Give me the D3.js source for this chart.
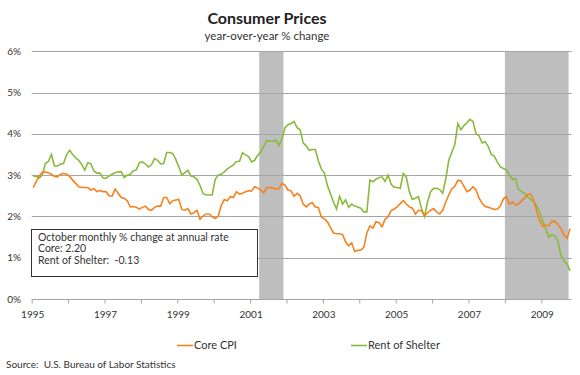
<!DOCTYPE html>
<html>
<head>
<meta charset="utf-8">
<script src="https://cdn.jsdelivr.net/npm/d3@7"></script>
<style>
body { margin: 0; background: #fff; }
text { font-family: Lato, "Open Sans", sans-serif; fill: #333; white-space: pre; }
</style>
</head>
<body>
<div id="chart"></div>
<script>
// monthly year-over-year % change, Jan 1995 - Oct 2009
var startYear = 1995;
var coreCPI = [
	2.70, 2.85, 2.98, 3.07, 3.08, 3.05, 3.02, 2.97, 2.96, 3.02, 3.04, 3.03,
	2.97, 2.88, 2.80, 2.72, 2.70, 2.70, 2.70, 2.64, 2.67, 2.60, 2.63, 2.60,
	2.60, 2.50, 2.49, 2.66, 2.56, 2.46, 2.44, 2.38, 2.23, 2.24, 2.22, 2.18,
	2.22, 2.25, 2.17, 2.15, 2.22, 2.25, 2.25, 2.46, 2.46, 2.31, 2.38, 2.40,
	2.41, 2.17, 2.15, 2.19, 2.06, 2.09, 2.15, 1.93, 2.01, 2.06, 2.06, 1.99,
	1.95, 2.01, 2.27, 2.41, 2.38, 2.48, 2.46, 2.60, 2.54, 2.56, 2.60, 2.62,
	2.62, 2.72, 2.69, 2.64, 2.57, 2.70, 2.70, 2.69, 2.66, 2.67, 2.80, 2.76,
	2.64, 2.62, 2.49, 2.56, 2.50, 2.30, 2.23, 2.30, 2.33, 2.23, 2.22, 1.98,
	1.94, 1.87, 1.73, 1.60, 1.58, 1.58, 1.56, 1.38, 1.29, 1.36, 1.15, 1.18,
	1.18, 1.25, 1.60, 1.77, 1.72, 1.87, 1.85, 1.75, 1.93, 1.99, 2.14, 2.18,
	2.23, 2.31, 2.38, 2.30, 2.23, 2.20, 2.06, 2.15, 2.14, 2.01, 2.09, 2.15,
	2.19, 2.11, 2.06, 2.15, 2.35, 2.52, 2.67, 2.73, 2.88, 2.86, 2.73, 2.60,
	2.64, 2.72, 2.64, 2.44, 2.32, 2.24, 2.22, 2.20, 2.17, 2.18, 2.25, 2.42,
	2.48, 2.30, 2.35, 2.28, 2.30, 2.37, 2.45, 2.53, 2.54, 2.40, 2.12, 1.90,
	1.75, 1.79, 1.77, 1.88, 1.88, 1.80, 1.70, 1.55, 1.47, 1.70
];
var rentShelter = [
	2.98, 2.97, 2.93, 3.00, 3.28, 3.33, 3.50, 3.22, 3.22, 3.27, 3.28, 3.50,
	3.60, 3.50, 3.42, 3.36, 3.26, 3.12, 3.30, 3.28, 3.10, 3.05, 3.05, 2.93,
	2.92, 2.98, 3.02, 3.06, 3.08, 3.08, 2.94, 3.00, 3.02, 3.10, 3.13, 3.30,
	3.32, 3.27, 3.20, 3.25, 3.40, 3.36, 3.27, 3.28, 3.55, 3.55, 3.52, 3.38,
	3.20, 3.00, 3.06, 3.12, 2.98, 2.96, 2.90, 2.75, 2.55, 2.52, 2.52, 2.52,
	2.90, 3.00, 3.02, 3.08, 3.15, 3.20, 3.25, 3.33, 3.33, 3.54, 3.49, 3.45,
	3.32, 3.36, 3.48, 3.56, 3.70, 3.84, 3.82, 3.82, 3.85, 3.72, 3.88, 4.15,
	4.22, 4.25, 4.30, 4.15, 4.10, 3.78, 3.71, 3.60, 3.62, 3.62, 3.35, 3.15,
	3.05, 2.75, 2.55, 2.35, 2.18, 2.49, 2.30, 2.40, 2.22, 2.30, 2.25, 2.23,
	2.20, 2.11, 2.11, 2.88, 2.84, 2.90, 2.94, 2.96, 2.85, 3.00, 2.78, 2.71,
	2.70, 2.68, 3.04, 2.95, 2.60, 2.41, 2.44, 2.48, 2.20, 2.00, 2.35, 2.60,
	2.68, 2.68, 2.65, 2.56, 2.90, 3.36, 3.55, 3.75, 4.25, 4.10, 4.20, 4.27,
	4.35, 4.30, 4.00, 3.95, 3.78, 3.81, 3.70, 3.50, 3.46, 3.32, 3.20, 3.16,
	3.13, 3.00, 2.90, 2.92, 2.65, 2.60, 2.56, 2.47, 2.41, 2.36, 2.25, 2.10,
	1.88, 1.70, 1.50, 1.56, 1.53, 1.40, 1.05, 0.92, 0.85, 0.68
];
var yearLabels = ["1995", "1997", "1999", "2001", "2003", "2005", "2007", "2009"];
var yTicks = [0, 1, 2, 3, 4, 5, 6];
var recessions = [["2001-04", "2001-11"], ["2008-01", "2009-09"]];
var noteLines = ["October monthly % change at annual rate", "Core: 2.20", "Rent of Shelter:  -0.13"];

var width = 580, height = 375;
var plot = {left: 31.7, right: 571.6, top: 51.3, bottom: 299};
var colors = {core: "#f5821f", rent: "#8aba3c"};

function monthIndex(s) {
	var p = s.split("-");
	return (+p[0] - startYear) * 12 + (+p[1] - 1);
}

var svg = d3.select("#chart").append("svg").attr("width", width).attr("height", height);

var n = coreCPI.length;
var x = d3.scaleLinear().domain([0, n]).range([plot.left, plot.right]);
var y = d3.scaleLinear().domain([0, 6]).range([plot.bottom, plot.top]);

// recession shading
svg.append("g").selectAll("rect")
	.data(recessions)
	.enter().append("rect")
	.attr("x", function(d) { return x(monthIndex(d[0])); })
	.attr("width", function(d) { return x(monthIndex(d[1]) + 1) - x(monthIndex(d[0])); })
	.attr("y", y(6))
	.attr("height", y(0) - y(6))
	.style("fill", "#bebebe");

// gridlines
svg.append("g").selectAll("line")
	.data(yTicks.slice(1))
	.enter().append("line")
	.attr("x1", plot.left)
	.attr("x2", plot.right)
	.attr("y1", function(d) { return Math.round(y(d)) + 0.5; })
	.attr("y2", function(d) { return Math.round(y(d)) + 0.5; })
	.style("stroke", "#a6a6a6");

// y labels
svg.append("g").selectAll("text")
	.data(yTicks)
	.enter().append("text")
	.attr("x", 21)
	.attr("y", function(d) { return y(d); })
	.attr("dy", "0.35em")
	.attr("text-anchor", "end")
	.attr("font-size", "10px")
	.text(function(d) { return d + "%"; });

// x axis: ticks every year, labels every other year
var xAxis = d3.axisBottom(x)
	.tickValues(d3.range(0, n, 12))
	.tickSize(4)
	.tickFormat("");
var gx = svg.append("g")
	.attr("transform", "translate(0," + (Math.round(plot.bottom) + 0.5) + ")")
	.call(xAxis);
gx.select(".domain").attr("d", "M" + plot.left + ",0H" + plot.right).style("stroke", "#a6a6a6");
gx.selectAll(".tick line").style("stroke", "#a6a6a6");

svg.append("g").selectAll("text")
	.data(yearLabels)
	.enter().append("text")
	.attr("x", function(d) { return x((+d - startYear) * 12) + 1; })
	.attr("y", 314)
	.attr("dy", "0.35em")
	.attr("text-anchor", "middle")
	.attr("font-size", "10px")
	.text(function(d) { return d; });

// series lines
var line = d3.line()
	.x(function(d, i) { return x(i + 0.5); })
	.y(function(d) { return y(d); });

svg.append("path")
	.datum(rentShelter)
	.attr("d", line)
	.style("fill", "none")
	.style("stroke", colors.rent)
	.style("stroke-width", 1.6);

svg.append("path")
	.datum(coreCPI)
	.attr("d", line)
	.style("fill", "none")
	.style("stroke", colors.core)
	.style("stroke-width", 1.6);

// note box
var note = svg.append("g");
note.append("rect")
	.attr("x", 31.5)
	.attr("y", 229.5)
	.attr("width", 226)
	.attr("height", 47)
	.style("fill", "#fff")
	.style("stroke", "#333");
note.selectAll("text")
	.data(noteLines)
	.enter().append("text")
	.attr("x", 38)
	.attr("y", function(d, i) { return 237.5 + i * 11.3; })
	.attr("dy", "0.35em")
	.attr("font-size", "10.5px")
	.text(function(d) { return d; });

// titles
svg.append("text")
	.attr("x", 267)
	.attr("y", 24)
	.attr("text-anchor", "middle")
	.attr("font-size", "16px")
	.attr("font-weight", "bold")
	.style("fill", "#222")
	.text("Consumer Prices");
svg.append("text")
	.attr("x", 267)
	.attr("y", 39.5)
	.attr("text-anchor", "middle")
	.attr("font-size", "11.5px")
	.text("year-over-year % change");

// legend
var legend = [{name: "Core CPI", color: colors.core, x: 177}, {name: "Rent of Shelter", color: colors.rent, x: 351}];
var lg = svg.append("g").selectAll("g").data(legend).enter().append("g");
lg.append("line")
	.attr("x1", function(d) { return d.x; })
	.attr("x2", function(d) { return d.x + 16; })
	.attr("y1", 345.5)
	.attr("y2", 345.5)
	.style("stroke", function(d) { return d.color; })
	.style("stroke-width", 1.6);
lg.append("text")
	.attr("x", function(d) { return d.x + 17; })
	.attr("y", 345.5)
	.attr("dy", "0.35em")
	.attr("font-size", "11px")
	.text(function(d) { return d.name; });

svg.append("text")
	.attr("x", 6)
	.attr("y", 364)
	.attr("dy", "0.35em")
	.attr("font-size", "10px")
	.text("Source:  U.S. Bureau of Labor Statistics");
</script>
</body>
</html>
